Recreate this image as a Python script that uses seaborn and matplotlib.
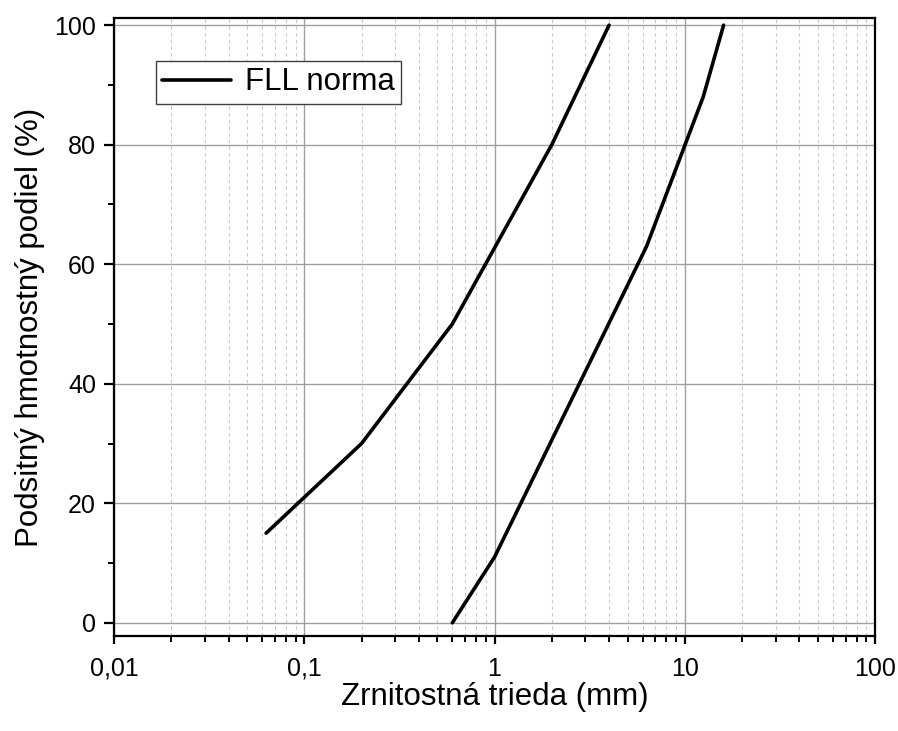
import matplotlib
matplotlib.use("Agg")
import matplotlib.pyplot as plt
import seaborn as sns
import pandas as pd
import numpy as np
from matplotlib.ticker import LogLocator, NullFormatter, MultipleLocator

# Data
lower_x = [0.063, 0.2, 0.6, 2, 4]
lower_y = [15, 30, 50, 80, 100]
upper_x = [0.6, 1, 6.3, 12.5, 16]
upper_y = [0, 11, 63, 88, 100]
x_ticks = [0.01, 0.1, 1, 10, 100]
x_tick_labels = ["0,01", "0,1", "1", "10", "100"]
y_ticks = [0, 20, 40, 60, 80, 100]
legend_label = "FLL norma"

df = pd.DataFrame({
    "x": lower_x + upper_x,
    "y": lower_y + upper_y,
    "curve": ["lower"] * len(lower_x) + ["upper"] * len(upper_x),
})

sns.set_style("white")
plt.rcParams["font.family"] = ["Liberation Sans", "DejaVu Sans"]
plt.rcParams["text.color"] = "black"
plt.rcParams["axes.labelcolor"] = "black"

fig = plt.figure(figsize=(8.98, 7.31), dpi=100)
ax = fig.add_axes([0.127, 0.13, 0.8474, 0.8454])

sns.lineplot(data=df[df.curve == "lower"], x="x", y="y", sort=False,
             estimator=None, color="black", lw=2.6, ax=ax, label=legend_label, zorder=5)
sns.lineplot(data=df[df.curve == "upper"], x="x", y="y", sort=False,
             estimator=None, color="black", lw=2.6, ax=ax, zorder=5)

ax.set_xscale("log")
ax.set_xlim(0.01, 100)
ax.set_ylim(-2.2, 101.2)

ax.set_xticks(x_ticks)
ax.set_xticklabels(x_tick_labels)
ax.xaxis.set_minor_locator(LogLocator(base=10, subs=np.arange(2, 10), numticks=20))
ax.xaxis.set_minor_formatter(NullFormatter())
ax.set_yticks(y_ticks)
ax.yaxis.set_minor_locator(MultipleLocator(10))

ax.grid(which="major", axis="both", color="#a0a0a0", lw=1.0, ls="-")
ax.grid(which="minor", axis="x", color="#c8c8c8", lw=0.8, ls=(0, (3, 3)))
ax.set_axisbelow(True)

for s in ax.spines.values():
    s.set_visible(True)
    s.set_color("black")
    s.set_linewidth(1.6)

ax.tick_params(axis="both", which="major", direction="out", width=1.6,
               labelsize=18, colors="black", labelcolor="black")
ax.tick_params(axis="x", which="major", length=6, pad=9)
ax.tick_params(axis="y", which="major", length=7, pad=6)
ax.tick_params(axis="both", which="minor", direction="out", length=4, width=1.4,
               colors="black")
ax.tick_params(axis="x", which="both", bottom=True, top=False)
ax.tick_params(axis="y", which="both", left=True, right=False)

ax.set_xlabel("Zrnitostná trieda (mm)", fontsize=22.5, labelpad=1, color="black")
ax.set_ylabel("Podsitný hmotnostný podiel (%)", fontsize=22.5, labelpad=6.5, color="black")

leg = ax.legend(loc="upper left", bbox_to_anchor=(0.055, 0.93), fontsize=22.5,
                frameon=True, fancybox=False, edgecolor="#404040", framealpha=1,
                handlelength=2.2, handletextpad=0.45, borderpad=0.2,
                borderaxespad=0)
leg.get_frame().set_linewidth(1.0)
for t in leg.get_texts():
    t.set_color("black")

fig.savefig("out.png", dpi=100)
